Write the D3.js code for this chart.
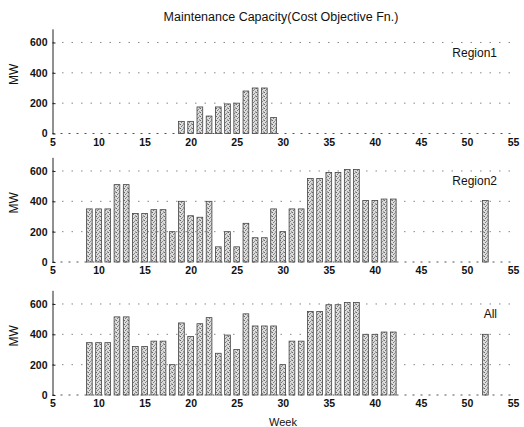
<!DOCTYPE html>
<html>
<head>
<meta charset="utf-8">
<script src="https://cdn.jsdelivr.net/npm/d3@7"></script>
<style>
  body { margin: 0; background: #fff; }
  svg { font-family: "Liberation Sans", Arial, sans-serif; }
</style>
</head>
<body>
<svg id="chart"></svg>
<script>
// weeks that carry maintenance, values in MW
const weeks = [9, 10, 11, 12, 13, 14, 15, 16, 17, 18, 19, 20, 21, 22, 23, 24, 25,
  26, 27, 28, 29, 30, 31, 32, 33, 34, 35, 36, 37, 38, 39, 40, 41, 42, 52];

const region1 = [0, 0, 0, 0, 0, 0, 0, 0, 0, 0, 80, 80, 175, 115, 175, 195, 200,
  280, 300, 300, 105, 0, 0, 0, 0, 0, 0, 0, 0, 0, 0, 0, 0, 0, 0];

const region2 = [350, 350, 350, 510, 510, 320, 320, 345, 345, 200, 400, 305, 295,
  400, 100, 200, 100, 255, 160, 160, 350, 200, 350, 350, 550, 550, 590, 590, 610,
  610, 405, 405, 415, 415, 405];

const allRegions = [345, 345, 345, 515, 515, 320, 320, 355, 355, 200, 475, 385,
  470, 510, 275, 395, 300, 535, 455, 455, 455, 200, 355, 355, 550, 550, 595, 595,
  610, 610, 400, 400, 415, 415, 400];

const panelNames = ["Region1", "Region2", "All"];
const yTicks = [0, 200, 400, 600];
const xTicks = [5, 10, 15, 20, 25, 30, 35, 40, 45, 50, 55];

const width = 524;
const height = 427;

const svg = d3.select("#chart").attr("width", width).attr("height", height);

// stippled grey fill like the scanned bars
const defs = svg.append("defs");
const pat = defs
  .append("pattern")
  .attr("id", "stipple")
  .attr("width", 4)
  .attr("height", 4)
  .attr("patternUnits", "userSpaceOnUse");
pat.append("rect").attr("width", 4).attr("height", 4).attr("fill", "#dcdcdc");
[[0, 0, "#666"], [2, 1, "#888"], [1, 2, "#777"], [3, 3, "#999"], [3, 0, "#aaa"]].forEach((p) => {
  pat.append("rect").attr("x", p[0]).attr("y", p[1]).attr("width", 1).attr("height", 1).attr("fill", p[2]);
});

const xScale = d3.scaleLinear().domain([5, 55]).range([52.5, 513]);
const barW = (xScale(6) - xScale(5)) * 0.62;

const panels = [
  { name: panelNames[0], values: region1, bottom: 133.5 },
  { name: panelNames[1], values: region2, bottom: 262 },
  { name: panelNames[2], values: allRegions, bottom: 395 },
];

panels.forEach((p) => {
  const yScale = d3
    .scaleLinear()
    .domain([0, 690])
    .range([p.bottom, p.bottom - 690 * 0.1517]);

  const g = svg.append("g");

  // dotted grid
  g.selectAll(".grid")
    .data(yTicks.slice(1))
    .enter()
    .append("line")
    .attr("x1", xScale(5))
    .attr("x2", xScale(55))
    .attr("y1", (d) => yScale(d))
    .attr("y2", (d) => yScale(d))
    .attr("stroke", "#888")
    .attr("stroke-width", 1)
    .attr("stroke-dasharray", "1.5,8");

  // bars
  g.selectAll(".bar")
    .data(weeks.map((w, i) => ({ week: w, value: p.values[i] })).filter((d) => d.value > 0))
    .enter()
    .append("rect")
    .attr("x", (d) => xScale(d.week) - barW / 2)
    .attr("y", (d) => yScale(d.value))
    .attr("width", barW)
    .attr("height", (d) => yScale(0) - yScale(d.value))
    .attr("fill", "url(#stipple)")
    .attr("stroke", "#444")
    .attr("stroke-width", 0.8);

  // bottom baseline (dotted in the scan)
  g.append("line")
    .attr("x1", xScale(5))
    .attr("x2", xScale(55))
    .attr("y1", yScale(0))
    .attr("y2", yScale(0))
    .attr("stroke", "#555")
    .attr("stroke-width", 1)
    .attr("stroke-dasharray", "2,6");

  // y axis
  const yAxis = d3.axisLeft(yScale).tickValues(yTicks).tickSize(-3).tickPadding(5).tickSizeOuter(0);
  const ya = g
    .append("g")
    .attr("transform", `translate(${xScale(5)},0)`)
    .call(yAxis);
  ya.select(".domain").attr("stroke", "#222");
  ya.selectAll("line").attr("stroke", "#222");
  ya.selectAll("text").style("font-size", "10.5px").style("font-weight", "bold").attr("fill", "#111");

  // x tick labels
  const xAxis = d3.axisBottom(xScale).tickValues(xTicks).tickSize(0).tickPadding(5);
  const xa = g
    .append("g")
    .attr("transform", `translate(0,${yScale(0)})`)
    .call(xAxis);
  xa.select(".domain").remove();
  xa.selectAll("text").style("font-size", "10.5px").style("font-weight", "bold").attr("fill", "#111");

  // MW label
  g.append("text")
    .attr("transform", `translate(18,${yScale(390)}) rotate(-90)`)
    .style("text-anchor", "middle")
    .style("font-size", "12px")
    .attr("fill", "#111")
    .text("MW");

  // panel name
  g.append("text")
    .attr("x", 497)
    .attr("y", yScale(505))
    .style("text-anchor", "end")
    .style("font-size", "12px")
    .attr("fill", "#111")
    .text(p.name);
});

// title
svg
  .append("text")
  .attr("x", 281)
  .attr("y", 21)
  .attr("text-anchor", "middle")
  .style("font-size", "12.5px")
  .attr("fill", "#111")
  .text("Maintenance Capacity(Cost Objective Fn.)");

// x axis label
svg
  .append("text")
  .attr("x", 283)
  .attr("y", 426)
  .attr("text-anchor", "middle")
  .style("font-size", "11px")
  .attr("fill", "#111")
  .text("Week");
</script>
</body>
</html>
